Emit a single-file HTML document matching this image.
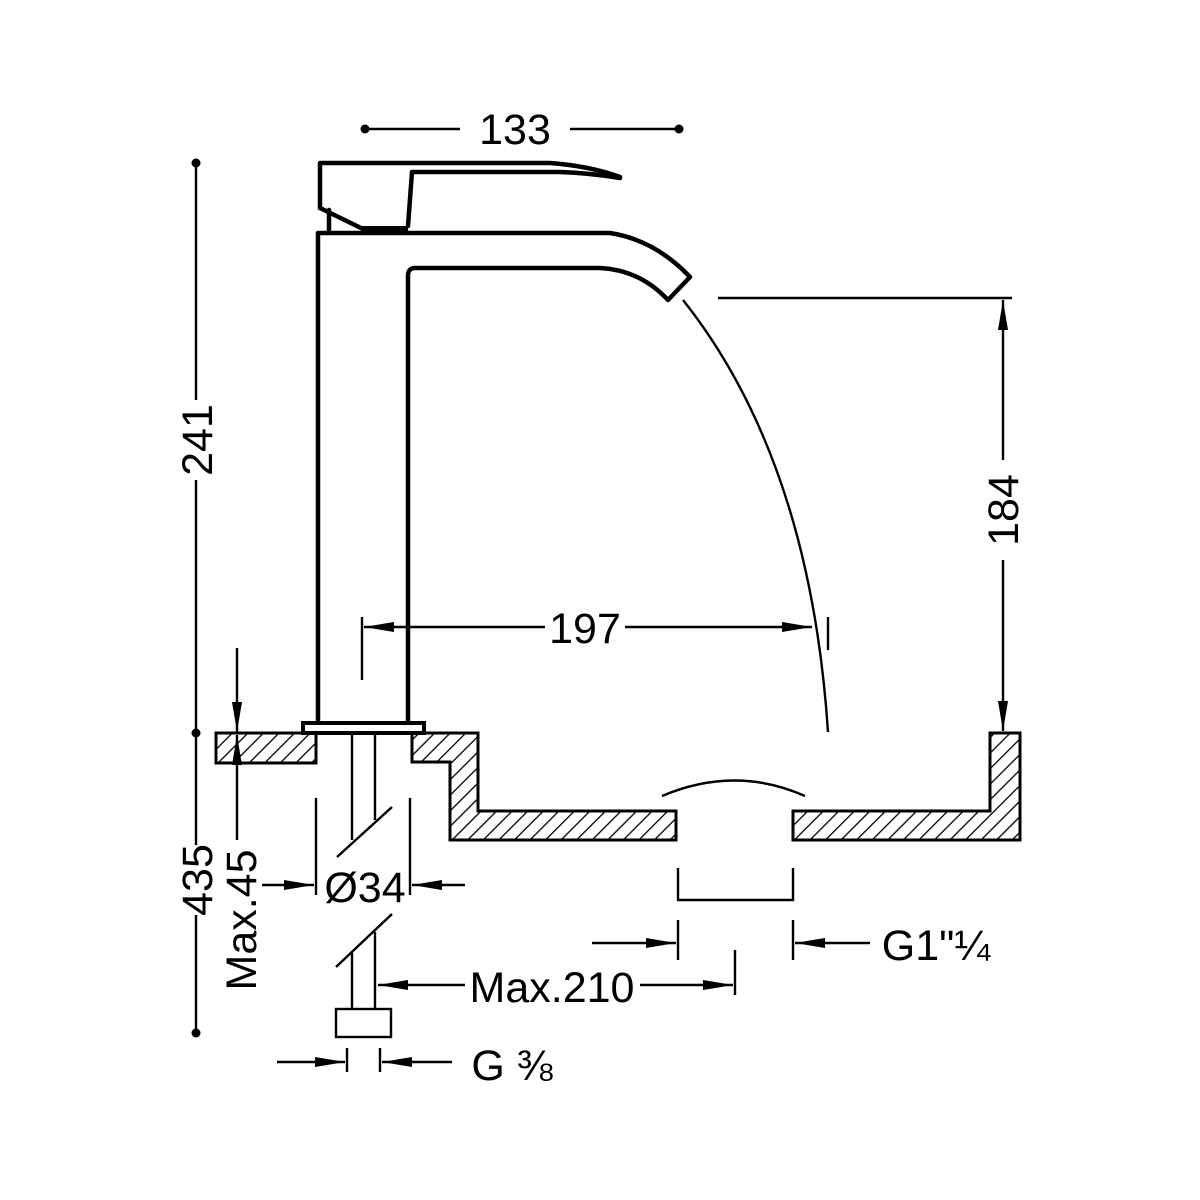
<!DOCTYPE html><html><head><style>body{margin:0;background:#fff}svg{display:block}</style></head><body>
<svg width="1200" height="1200" viewBox="0 0 1200 1200" xmlns="http://www.w3.org/2000/svg">
<defs>
<pattern id="h" width="11" height="11" patternUnits="userSpaceOnUse" patternTransform="rotate(45)"><line x1="0" y1="0" x2="0" y2="11" stroke="#000" stroke-width="2.6"/></pattern>
<marker id="a" viewBox="0 0 30 10" refX="30" refY="5" markerWidth="30" markerHeight="10" markerUnits="userSpaceOnUse" orient="auto"><path d="M0,0L30,5L0,10z" fill="#000"/></marker>
</defs>
<g fill="none" stroke="#000" stroke-width="2.4">
<line x1="365" y1="129" x2="460" y2="129"/><line x1="570" y1="129" x2="679" y2="129"/>
<line x1="196" y1="163" x2="196" y2="400"/><line x1="196" y1="480" x2="196" y2="845"/><line x1="196" y1="915" x2="196" y2="1033"/>
<line x1="237" y1="648" x2="237" y2="732" marker-end="url(#a)"/>
<line x1="237" y1="840" x2="237" y2="735" marker-end="url(#a)"/>
<g stroke-width="4.5" stroke-linejoin="round" stroke-linecap="round">
<path d="M320,208 L320,163 L550,163 Q590,166 620,177"/>
<path d="M320,208 L363,229"/>
<path d="M408,226 L412,172 L560,172 Q590,173 620,178"/>
<path d="M329,210 L329,230"/>
<path d="M318,720 L318,233 L610,233 Q655,240 690,277 L668,300 Q640,270 600,268 L415,268 Q408,268 408,276 L408,720"/>
</g>
<line x1="362" y1="229" x2="408" y2="229" stroke-width="6"/>
<rect x="303" y="723" width="121" height="10" stroke-width="4"/>
<rect x="216" y="733" width="100" height="30" fill="url(#h)" stroke-width="3"/>
<path d="M412,733 L478,733 L478,811 L676,811 L676,840 L450,840 L450,762 L412,762 Z" fill="url(#h)" stroke-width="3"/>
<path d="M793,811 L990,811 L990,733 L1020,733 L1020,840 L793,840 Z" fill="url(#h)" stroke-width="3"/>
<path d="M662,796 Q735,765 805,796"/>
<line x1="352" y1="733" x2="352" y2="840"/><line x1="375" y1="733" x2="375" y2="820"/>
<line x1="337" y1="857" x2="392" y2="807"/>
<line x1="316" y1="798" x2="316" y2="895"/><line x1="410" y1="798" x2="410" y2="895"/>
<line x1="262" y1="885" x2="314" y2="885" marker-end="url(#a)"/><line x1="465" y1="885" x2="412" y2="885" marker-end="url(#a)"/>
<line x1="352" y1="953" x2="352" y2="1010"/><line x1="375" y1="932" x2="375" y2="1010"/>
<line x1="336" y1="967" x2="392" y2="914"/>
<rect x="336" y="1009" width="55" height="28"/>
<line x1="347" y1="1048" x2="347" y2="1072"/><line x1="380" y1="1048" x2="380" y2="1072"/>
<line x1="277" y1="1062" x2="345" y2="1062" marker-end="url(#a)"/><line x1="452" y1="1062" x2="382" y2="1062" marker-end="url(#a)"/>
<line x1="465" y1="985" x2="378" y2="985" marker-end="url(#a)"/><line x1="640" y1="985" x2="733" y2="985" marker-end="url(#a)"/>
<line x1="735" y1="950" x2="735" y2="995"/>
<path d="M678,868 L678,900 L793,900 L793,868"/>
<line x1="678" y1="920" x2="678" y2="960"/><line x1="793" y1="920" x2="793" y2="960"/>
<line x1="592" y1="943" x2="676" y2="943" marker-end="url(#a)"/><line x1="870" y1="943" x2="795" y2="943" marker-end="url(#a)"/>
<line x1="362" y1="617" x2="362" y2="680"/><line x1="828" y1="617" x2="828" y2="650"/>
<line x1="545" y1="627" x2="364" y2="627" marker-end="url(#a)"/><line x1="625" y1="627" x2="812" y2="627" marker-end="url(#a)"/>
<line x1="718" y1="298" x2="1012" y2="298"/>
<line x1="1003" y1="460" x2="1003" y2="300" marker-end="url(#a)"/><line x1="1003" y1="560" x2="1003" y2="731" marker-end="url(#a)"/>
<path d="M683,300 Q810,460 828,732"/>
</g>
<g fill="#000"><circle cx="365" cy="129" r="4.5"/><circle cx="679" cy="129" r="4.5"/><circle cx="196" cy="163" r="4.5"/><circle cx="196" cy="733" r="4.5"/><circle cx="196" cy="1033" r="4.5"/></g>
<g font-family="Liberation Sans, sans-serif" font-size="43" fill="#000" text-anchor="middle">
<text x="515" y="144">133</text>
<text x="585" y="643">197</text>
<text transform="translate(212,440) rotate(-90)">241</text>
<text transform="translate(212,880) rotate(-90)">435</text>
<text transform="translate(256,920) rotate(-90)">Max.45</text>
<text transform="translate(1018,510) rotate(-90)">184</text>
<text x="365" y="902">Ø34</text>
<text x="552" y="1002">Max.210</text>
<text x="936" y="960">G1"¼</text>
<text x="512" y="1080">G ⅜</text>
</g>
</svg></body></html>
